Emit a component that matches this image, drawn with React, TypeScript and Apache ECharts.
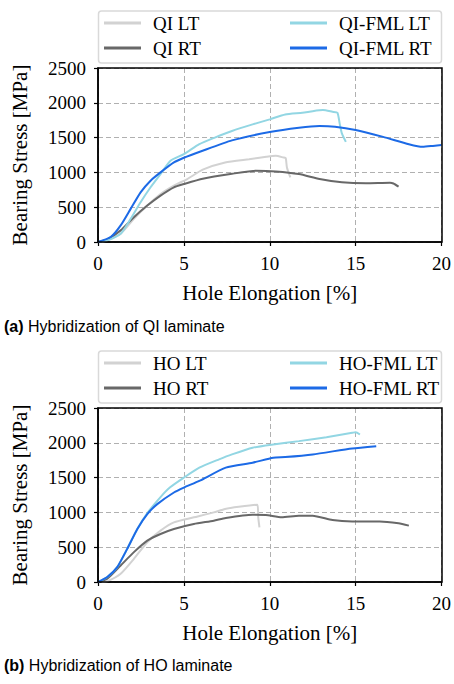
import React, { useEffect, useRef } from "react";
import * as echarts from "echarts";

// ---- Data (Hole Elongation [%], Bearing Stress [MPa]) ----
const qiLT = [[0.2, 0], [0.54, 24], [1.32, 119], [2.09, 333], [2.87, 524], [3.64, 690], [4.42, 810], [5.2, 905], [6.1, 1040], [7.4, 1143], [8.8, 1190], [9.8, 1224], [10.35, 1238], [10.8, 1214], [10.93, 1205], [11.0, 1071], [11.2, 929]];
const qiRT = [[0, 0], [0.54, 38], [1.32, 167], [2.09, 357], [2.87, 524], [3.64, 667], [4.42, 786], [5, 833], [6.1, 910], [7.8, 980], [9.2, 1024], [10.35, 1014], [11.7, 976], [12.9, 905], [14.2, 857], [15.6, 843], [17.0, 850], [17.2, 840], [17.5, 795]];
const qiFmlLT = [[0, 0], [0.5, 20], [1.32, 119], [1.9, 333], [2.48, 571], [3.06, 786], [3.64, 976], [4.22, 1167], [5, 1262], [5.9, 1405], [6.8, 1500], [7.8, 1595], [9, 1690], [10, 1762], [10.9, 1833], [11.9, 1857], [12.5, 1880], [13.1, 1895], [13.65, 1871], [13.94, 1857], [14.08, 1690], [14.2, 1560], [14.43, 1438]];
const qiFmlRT = [[0, 0], [0.74, 71], [1.32, 238], [1.9, 476], [2.48, 714], [3.06, 881], [3.64, 1000], [4.42, 1143], [5, 1210], [5.97, 1300], [7.8, 1460], [10, 1581], [11.7, 1643], [12.9, 1667], [13.8, 1657], [15, 1610], [16.6, 1510], [18.1, 1405], [18.9, 1367], [19.5, 1381], [20, 1395]];

const hoLT = [[0.2, 0], [0.54, 10], [1.32, 119], [2.09, 333], [2.87, 571], [3.64, 738], [4.42, 857], [5.58, 929], [6.74, 1000], [7.4, 1050], [8.2, 1081], [9.28, 1110], [9.33, 929], [9.4, 786]];
const hoRT = [[0, 0], [0.54, 48], [1.32, 238], [2.09, 429], [2.87, 595], [3.64, 690], [4.42, 762], [5.58, 833], [6.74, 881], [7.44, 920], [9, 965], [9.77, 962], [10.7, 929], [11.7, 952], [12.5, 952], [13.65, 890], [14.8, 871], [16.4, 871], [17.5, 843], [18.1, 810]];
const hoFmlLT = [[0, 0], [0.54, 71], [1.12, 214], [1.7, 476], [2.29, 762], [2.87, 990], [3.64, 1220], [4.2, 1360], [5, 1500], [5.9, 1643], [7.05, 1762], [7.8, 1833], [9, 1929], [10.2, 1976], [11.7, 2024], [13.3, 2081], [14.8, 2143], [15, 2152], [15.25, 2119]];
const hoFmlRT = [[0, 0], [0.54, 71], [1.12, 214], [1.7, 476], [2.29, 762], [2.87, 976], [3.45, 1119], [4.42, 1286], [5, 1357], [5.9, 1452], [7.44, 1643], [9, 1714], [10.2, 1786], [10.9, 1795], [12.5, 1833], [14.8, 1919], [16.2, 1952]];

const seriesNamesA = ["QI LT", "QI RT", "QI-FML LT", "QI-FML RT"];
const seriesNamesB = ["HO LT", "HO RT", "HO-FML LT", "HO-FML RT"];
const captionA = ["(a)", " Hybridization of QI laminate"];
const captionB = ["(b)", " Hybridization of HO laminate"];
const xAxisName = "Hole Elongation [%]";
const yAxisName = "Bearing Stress [MPa]";

const COLORS = ["#d2d2d2", "#686868", "#92d6e3", "#1c6ae6"];
const SERIF = "Liberation Serif";
const SANS = "Liberation Sans";

export default function App() {
  const ref = useRef<HTMLDivElement>(null);
  useEffect(() => {
    if (!ref.current) return;
    const chart = echarts.init(ref.current, null, { renderer: "svg" });
    const grids = [
      { left: 98, top: 68, width: 344, height: 174 },
      { left: 98, top: 408, width: 344, height: 174 },
    ];
    const labelStyle = { fontFamily: SERIF, fontSize: 19, color: "#000", margin: 12, formatter: (v: number) => String(v) };
    const mkX = (i: number) => ({
      type: "value", gridIndex: i, min: 0, max: 20, interval: 5,
      name: xAxisName, nameLocation: "middle", nameGap: 40,
      nameTextStyle: { fontFamily: SERIF, fontSize: 21, color: "#000" },
      axisLine: { show: true, lineStyle: { color: "#000", width: 1.5 } },
      axisTick: { show: true, inside: false, length: 4, lineStyle: { color: "#000", width: 1.2 } },
      axisLabel: labelStyle,
      splitLine: { show: true, lineStyle: { color: "#b0b0b0", width: 1, type: [5, 3] } },
    });
    const mkY = (i: number) => ({
      type: "value", gridIndex: i, min: 0, max: 2500, interval: 500,
      name: yAxisName, nameLocation: "middle", nameGap: 68, nameRotate: 90,
      nameTextStyle: { fontFamily: SERIF, fontSize: 21, color: "#000" },
      axisLine: { show: true, lineStyle: { color: "#000", width: 1.5 } },
      axisTick: { show: true, inside: false, length: 4, lineStyle: { color: "#000", width: 1.2 } },
      axisLabel: labelStyle,
      splitLine: { show: true, lineStyle: { color: "#b0b0b0", width: 1, type: [5, 3] } },
    });
    const dataA = [qiLT, qiRT, qiFmlLT, qiFmlRT];
    const dataB = [hoLT, hoRT, hoFmlLT, hoFmlRT];
    const series: any[] = [];
    const addSeries = (names: string[], datas: number[][][], gi: number) => {
      names.forEach((n, k) => {
        series.push({
          type: "line", name: n, xAxisIndex: gi, yAxisIndex: gi,
          data: datas[k], showSymbol: false, symbol: "none",
          smooth: 0.2,
          lineStyle: { color: COLORS[k], width: 2 },
          itemStyle: { color: COLORS[k] },
          clip: true,
        });
      });
    };
    addSeries(seriesNamesA, dataA, 0);
    addSeries(seriesNamesB, dataB, 1);

    const mkLegend = (names: string[], left: number, top: number) => ({
      data: names, orient: "vertical", left, top, padding: 0,
      icon: "rect", itemWidth: 37, itemHeight: 3, itemGap: 5,
      selectedMode: false,
      textStyle: { fontFamily: SERIF, fontSize: 19, color: "#000", lineHeight: 20, padding: [0, 0, 0, 7] },
    });
    const legends = [
      mkLegend(seriesNamesA.slice(0, 2), 104, 13),
      mkLegend(seriesNamesA.slice(2, 4), 290, 13),
      mkLegend(seriesNamesB.slice(0, 2), 104, 353),
      mkLegend(seriesNamesB.slice(2, 4), 290, 353),
    ];
    const box = (y: number) => ({
      type: "rect", z: 0,
      shape: { x: 98.5, y, width: 343, height: 52, r: 3 },
      style: { fill: "#fff", stroke: "#d9d9d9", lineWidth: 1.5 },
    });
    const caption = (c: string[], y: number) => ({
      type: "text", left: 4, top: y,
      style: {
        text: `{b|${c[0]}}{n|${c[1]}}`,
        rich: {
          b: { fontFamily: SANS, fontWeight: "bold", fontSize: 16, fill: "#000" },
          n: { fontFamily: SANS, fontSize: 16, fill: "#000" },
        },
      },
    });
    const frame = (g: any) => ({
      type: "rect", z: 10, silent: true,
      shape: { x: g.left, y: g.top, width: g.width, height: g.height },
      style: { fill: "none", stroke: "#000", lineWidth: 1.5 },
    });
    chart.setOption({
      animation: false,
      backgroundColor: "#fff",
      textStyle: { fontFamily: SERIF },
      grid: grids,
      xAxis: [mkX(0), mkX(1)],
      yAxis: [mkY(0), mkY(1)],
      legend: legends,
      series,
      graphic: [box(11), box(351), frame(grids[0]), frame(grids[1]), caption(captionA, 318), caption(captionB, 657)],
    });
    return () => chart.dispose();
  }, []);
  return <div ref={ref} style={{ position: "fixed", left: 0, top: 0, width: 454, height: 684, background: "#fff" }} />;
}
